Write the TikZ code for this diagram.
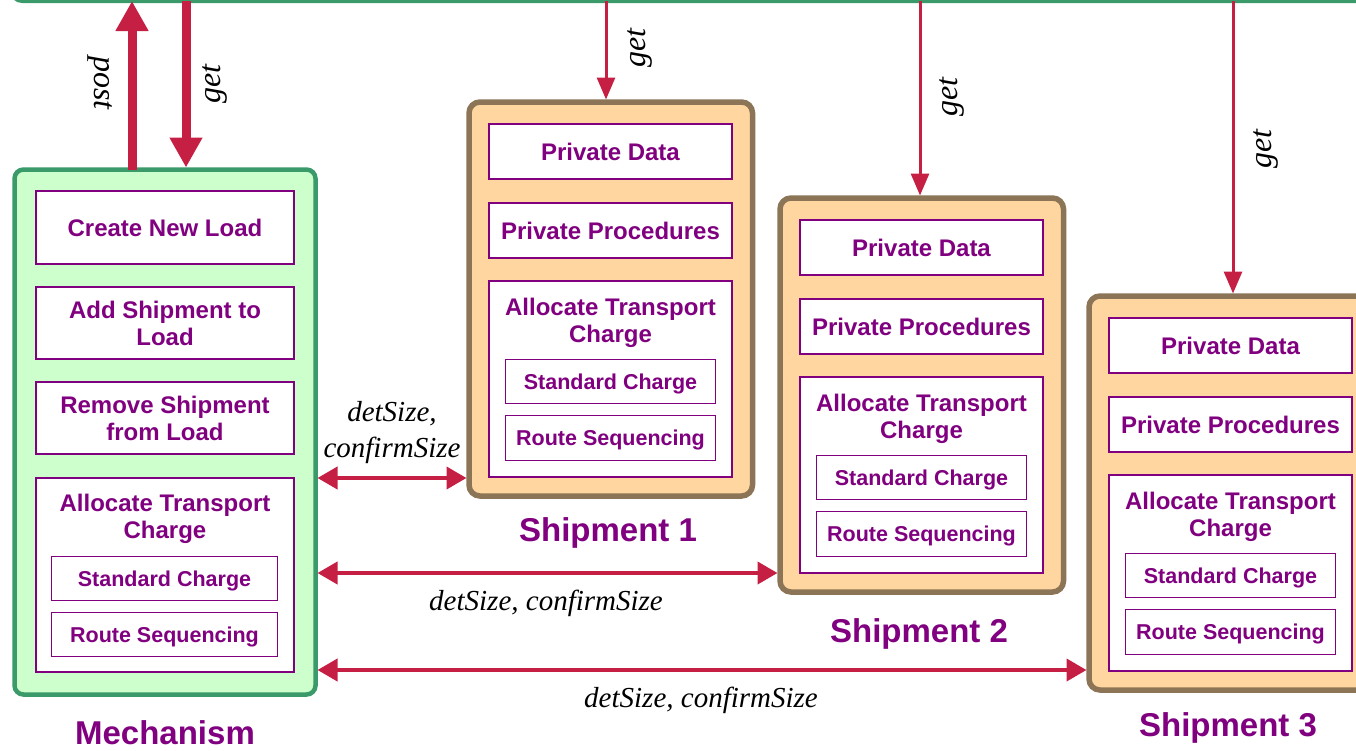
\documentclass[tikz,border=0pt]{standalone}
\usepackage{fontspec}
\setmainfont{Liberation Serif}
\newfontfamily\sansb{Liberation Sans}
\usetikzlibrary{arrows.meta}
\definecolor{pur}{RGB}{128,0,128}
\definecolor{crim}{RGB}{197,32,68}
\definecolor{mgreen}{RGB}{58,154,106}
\definecolor{lgreen}{RGB}{204,255,204}
\definecolor{peach}{RGB}{255,214,160}
\definecolor{brn}{RGB}{140,116,86}
\newcommand{\setfs}[2]{\fontsize{#1}{#2}\selectfont}
\tikzset{
 every node/.style={inner sep=0pt, outer sep=0pt},
 mechbox/.style={draw=mgreen, fill=lgreen, line width=4.5pt, rounded corners=9pt},
 shipbox/.style={draw=brn, fill=peach, line width=5.5pt, rounded corners=11pt},
 inbox/.style={draw=pur, fill=white, line width=2.6pt, text=pur, font=\sansb\bfseries\setfs{24}{27}, align=center},
 subbox/.style={draw=pur, fill=white, line width=1.8pt, text=pur, font=\sansb\bfseries\setfs{21.5}{24}, text height=15.4pt, text depth=0pt},
 boxtext/.style={text=pur, font=\sansb\bfseries\setfs{24}{27}, align=center},
 title/.style={text=pur, font=\sansb\bfseries\setfs{33}{36}, text height=23.6pt, text depth=0pt},
 msg/.style={font=\itshape\setfs{29}{36}, align=center},
 vmsg/.style={font=\itshape\setfs{32}{36}},
 bigarrow/.style={draw=crim, line width=9pt, -{Triangle[width=31pt,length=30pt]}},
 getarrow/.style={draw=crim, line width=3pt, -{Triangle[width=18pt,length=22pt]}},
 dblarrow/.style={draw=crim, line width=4pt, {Triangle[width=22pt,length=20pt]}-{Triangle[width=22pt,length=20pt]}},
}
\begin{document}
\begin{tikzpicture}[x=1pt,y=-1pt]
\useasboundingbox (0,0) rectangle (1356,750);
\clip (0,0) rectangle (1356,750);
% top bus (bottom edge of a box above the picture)
\node[draw=mgreen, line width=4pt, rounded corners=10pt, minimum width=1500pt, minimum height=100pt, anchor=south west] (bus) at (12,1) {};
% Mechanism
\node[mechbox, minimum width=301pt, minimum height=525pt] (mech) at (165,432) {};
\node[inbox, minimum width=258pt, minimum height=73pt] (cnl) at (165,227.5) {Create New Load};
\node[inbox, minimum width=258pt, minimum height=72pt] (asl) at (165,323) {Add Shipment to\\Load};
\node[inbox, minimum width=258pt, minimum height=72pt] (rsl) at (165,418) {Remove Shipment\\from Load};
\node[inbox, minimum width=258pt, minimum height=194pt] (matc) at (165,575) {};
\node[boxtext] (matct) at (165,518.5) {Allocate Transport\\Charge};
\node[subbox, minimum width=226pt, minimum height=44pt] (msc) at (164.5,578.5) {Standard Charge};
\node[subbox, minimum width=226pt, minimum height=44pt] (mrs) at (164.5,634.5) {Route Sequencing};
\node[title] (mechl) at (165,732.5) {Mechanism};
% Shipments
\foreach \i/\dx/\dy/\ly in {1/0/0/530, 2/311/96/631, 3/620/194/725} {
 \begin{scope}[shift={(\dx,\dy)}]
 \node[shipbox, minimum width=283.5pt, minimum height=394pt] (s\i) at (610.75,299) {};
 \node[inbox, minimum width=243pt, minimum height=55pt] (pd\i) at (610.5,151.5) {Private Data};
 \node[inbox, minimum width=243pt, minimum height=55pt] (pp\i) at (610.5,230.5) {Private Procedures};
 \node[inbox, minimum width=243pt, minimum height=196pt] (at\i) at (610.5,379) {};
 \node[boxtext] (att\i) at (610.5,322.5) {Allocate Transport\\Charge};
 \node[subbox, minimum width=210pt, minimum height=44pt] (sc\i) at (610.5,381.5) {Standard Charge};
 \node[subbox, minimum width=210pt, minimum height=45pt] (rs\i) at (610.5,438) {Route Sequencing};
 \end{scope}
 \node[title] (sl\i) at (608+\dx,\ly) {Shipment \i};
}
% post / get arrows
\coordinate (px) at (132,0);
\coordinate (gx) at (186,0);
\draw[bigarrow] (px |- mech.north) -- (px |- bus.south);
\draw[bigarrow] (gx |- bus.south) -- ([yshift=2pt]gx |- mech.north);
\node[vmsg, rotate=-90] (postl) at (100,83) {post};
\node[vmsg, rotate=90] (getl0) at (215,84) {get};
\foreach \i/\x/\lx/\lyy in {1/606/640/48, 2/920/952/97, 3/1233/1266/149} {
 \coordinate (g\i) at (\x,0);
 \draw[getarrow, shorten >=2.5pt] (g\i |- bus.south) -- (g\i |- s\i.north);
 \node[vmsg, rotate=90] (getl\i) at (\lx,\lyy) {get};
}
% detSize / confirmSize arrows
\coordinate (y1) at (0,478);
\coordinate (y2) at (0,573);
\coordinate (y3) at (0,670);
\foreach \i in {1,2,3} {
 \draw[dblarrow, shorten <=2pt, shorten >=2.5pt] (mech.east |- y\i) -- (s\i.west |- y\i);
}
\node[msg] (m1) at (392,433) {detSize,\\confirmSize};
\node[msg, anchor=base] (m2) at (546,610) {detSize, confirmSize};
\node[msg, anchor=base] (m3) at (701,707) {detSize, confirmSize};
\end{tikzpicture}
\end{document}
